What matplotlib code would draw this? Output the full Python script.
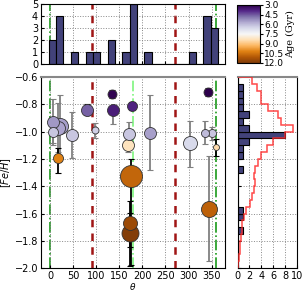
import numpy as np
import matplotlib
matplotlib.use("Agg")
import matplotlib.pyplot as plt
from matplotlib.colors import Normalize

plt.rcParams['font.size'] = 7
plt.rcParams['mathtext.fontset'] = 'dejavusans'

# stars: position angle, metallicity, errors, age, marker radius (px), error colour
theta = [6, 6, 18, 22, 48, 16.5, 80, 98, 135, 136, 178, 171, 169, 176, 217, 303, 343, 336, 350, 359, 344, 174, 174]
feh = [-0.93, -1.00, -0.97, -0.96, -1.025, -1.19, -0.84, -0.99, -0.725, -0.84, -0.81, -1.02, -1.10, -1.325,
       -1.008, -1.086, -0.707, -1.013, -1.013, -1.115, -1.57, -1.668, -1.746]
err_hi = [0.17, 0.08, 0.18, 0.23, 0.17, 0.07, 0.04, 0.055, 0.03, 0.03, 0.03, 0.09, 0.05, 0.125,
          0.275, 0.166, 0.03, 0.09, 0.05, 0.06, 0.39, 0.07, 0.24]
err_lo = [0.17, 0.08, 0.18, 0.23, 0.17, 0.11, 0.04, 0.06, 0.03, 0.105, 0.03, 0.10, 0.05, 0.65,
          0.275, 0.17, 0.03, 0.08, 0.05, 0.06, 0.38, 0.18, 0.24]
age = [5.4, 6.2, 5.6, 5.5, 6.2, 10.2, 4.6, 6.4, 3.1, 3.7, 3.8, 6.2, 8.3, 10.8, 5.5, 6.6, 3.0, 6.0, 6.2, 8.5, 10.9, 11.5, 11.9]
radius = [6, 5, 7, 8, 6, 5, 6, 3.5, 4.5, 6, 5, 6, 6, 11, 6, 7, 4.5, 4, 4, 3, 8, 7, 8.5]
ecol = ['gray', 'gray', 'gray', 'gray', 'gray', 'k', 'k', 'gray', 'k', 'gray', 'k', 'gray', 'gray', 'k',
        'gray', 'gray', 'k', 'gray', 'gray', 'k', 'gray', 'k', 'k']

# theta histogram
theta_lo, theta_hi = -3, 364
theta_counts = [2, 4, 0, 1, 0, 1, 1, 0, 2, 0, 1, 5, 0, 1, 0, 0, 0, 0, 0, 1, 0, 4, 3]

# [Fe/H] histogram, bins of 0.05 from -2.0 up to -0.6
feh_counts = [0, 0, 0, 0, 0, 1, 0, 1, 1, 0, 0, 0, 0, 0, 1, 0, 1, 1, 2, 8, 2, 1, 2, 1, 1, 1, 1, 0]
feh_field = [0.1, 0.3, 0.4, 0.4, 0.6, 0.7, 0.8, 1.1, 1.5, 2.1, 2.5, 2.8, 2.9, 2.8, 3.0, 3.5, 4.0, 5.0,
             6.0, 8.0, 9.3, 7.4, 6.8, 5.2, 4.0, 4.0, 3.3, 2.35]

bar_col = '#42427a'
cmap = plt.get_cmap('PuOr_r')
norm = Normalize(vmin=3.0, vmax=12.0)

fig = plt.figure(figsize=(3.03, 2.94), dpi=100)
ax = fig.add_axes([0.135, 0.088, 0.609, 0.650])
axt = fig.add_axes([0.135, 0.782, 0.609, 0.204], sharex=ax)
axr = fig.add_axes([0.784, 0.088, 0.196, 0.650], sharey=ax)
cax = fig.add_axes([0.783, 0.786, 0.075, 0.197])

def vlines(a):
    a.axvline(0, color='#1a9a1a', ls='-.', lw=1.2, zorder=1)
    a.axvline(360, color='#1a9a1a', ls='-.', lw=1.2, zorder=1)
    a.axvline(180, color='#7ef57e', ls='-.', lw=1.2, zorder=1)
    a.axvline(90, color='#a01515', ls='--', lw=1.8, dashes=(3, 2.5), zorder=1)
    a.axvline(270, color='#a01515', ls='--', lw=1.8, dashes=(3, 2.5), zorder=1)

# main panel
vlines(ax)
order = np.argsort(radius)[::-1]
for i in order:
    ax.errorbar(theta[i], feh[i], yerr=[[err_lo[i]], [err_hi[i]]], fmt='none', ecolor=ecol[i],
                elinewidth=1.3, capsize=2, capthick=0.8, zorder=2)
    ax.scatter(theta[i], feh[i], s=(2 * radius[i] * 0.72) ** 2, c=[age[i]], cmap=cmap, norm=norm,
               edgecolors='#333333', linewidths=0.6, zorder=3)
ax.set_xlim(-20, 380)
ax.set_ylim(-2.0, -0.6)
ax.set_xticks([0, 50, 100, 150, 200, 250, 300, 350])
ax.set_yticks([-2.0, -1.8, -1.6, -1.4, -1.2, -1.0, -0.8, -0.6])
ax.grid(True, ls=':', color='#888888', lw=0.7)
ax.set_xlabel(r'$\theta$', fontsize=6.5, labelpad=0)
ax.set_ylabel(r'$[Fe/H]$', labelpad=1)
ax.spines['top'].set_color('#888888')
ax.spines['top'].set_linewidth(1.5)
ax.tick_params(direction='in', length=2.5, pad=2)

# top histogram
vlines(axt)
edges = np.linspace(theta_lo, theta_hi, len(theta_counts) + 1)
axt.bar(edges[:-1], theta_counts, width=np.diff(edges), align='edge', color=bar_col,
        edgecolor='k', lw=0.8, zorder=2)
axt.set_ylim(0, 5)
axt.set_yticks([0, 1, 2, 3, 4, 5])
axt.grid(True, ls=':', color='#888888', lw=0.7)
axt.tick_params(labelbottom=False, direction='in', length=2.5, pad=2)

# right histogram
fedges = np.linspace(-2.0, -0.6, len(feh_counts) + 1)
axr.barh(fedges[:-1], feh_counts, height=np.diff(fedges), align='edge', color=bar_col,
         edgecolor='k', lw=0.8, zorder=2)
axr.stairs(feh_field, fedges, orientation='horizontal', color='#ff2a2a', lw=1.1, alpha=0.85, zorder=3)
axr.set_xlim(0, 10)
axr.set_xticks([0, 2, 4, 6, 8, 10])
axr.grid(True, ls=':', color='#888888', lw=0.7)
axr.tick_params(labelleft=False, direction='in', length=2.5, pad=2)
axr.spines['top'].set_color('#888888')
axr.spines['top'].set_linewidth(1.5)

# colorbar
sm = plt.cm.ScalarMappable(cmap=cmap, norm=norm)
cb = fig.colorbar(sm, cax=cax, ticks=[3.0, 4.5, 6.0, 7.5, 9.0, 10.5, 12.0])
cb.ax.set_yticklabels(['3.0', '4.5', '6.0', '7.5', '9.0', '10.5', '12.0'])
cb.ax.invert_yaxis()
cb.ax.tick_params(labelsize=6.5, length=2, pad=1)
cb.set_label('Age (Gyr)', family='serif', fontsize=7, labelpad=1)
cb.outline.set_linewidth(0.8)

fig.savefig('out.png', dpi=100)
